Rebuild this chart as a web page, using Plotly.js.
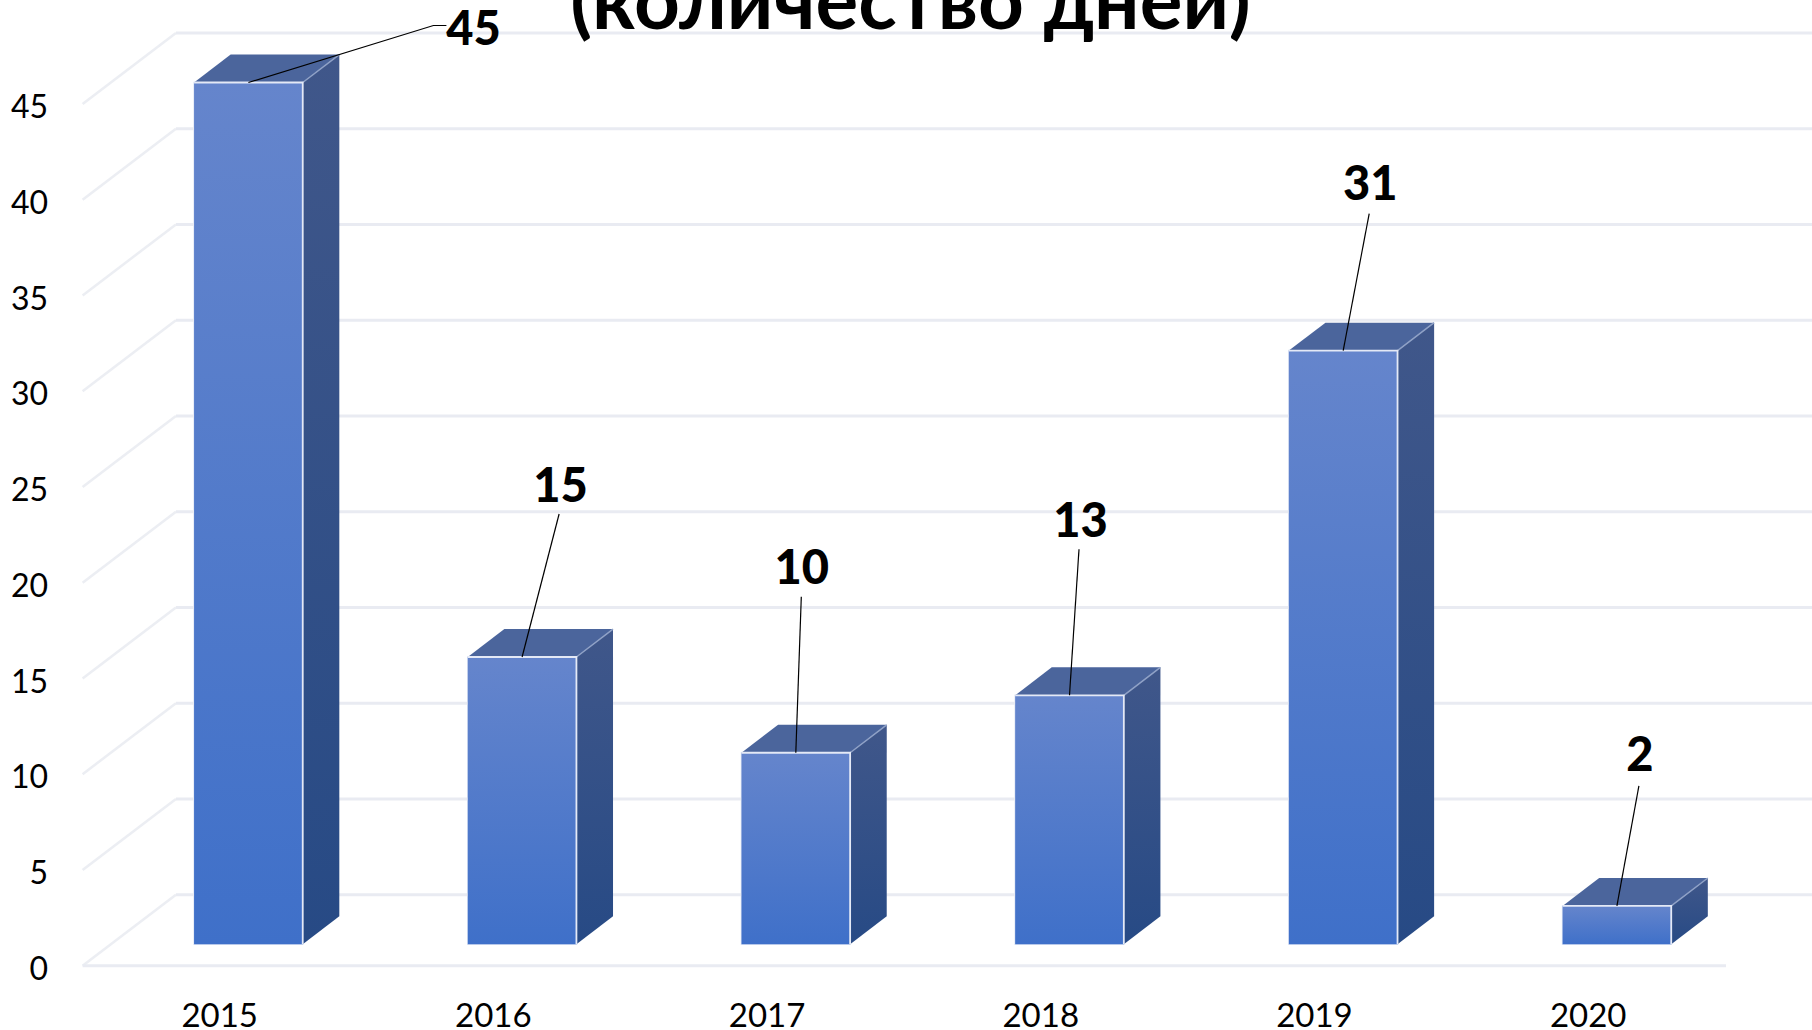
<!DOCTYPE html>
<html><head><meta charset="utf-8">
<script src="https://cdn.plot.ly/plotly-3.0.1.min.js"></script>
<style>html,body{margin:0;padding:0;background:#fff}#c{width:1812px;height:1030px}</style></head>
<body><div id="c"></div>
<script>
const years = ['2015','2016','2017','2018','2019','2020'];
const days = [45,15,10,13,31,2];
const yTicks = [0,5,10,15,20,25,30,35,40,45];
const titleText = '(количество дней)';

// 3-D construction, in axis units
const W = 1812, H = 1030, ML = 50, MB = 40;
const pxX = 273.7, pxY = 19.15, x0px = 248.4, y0px = 965.7;
const xOf = p => (p - x0px) / pxX, yOf = p => (y0px - p) / pxY;
const barW = 0.397, barDx = 0.1337, barDy = 1.46, barBase = 1.12;
const backDx = 0.341, backDy = 3.71;
const floorL = xOf(82.6), floorR = xOf(1726), wallR = xOf(W);
const labelShift = -0.105;

// label positions relative to the bar's top-centre, in pixels
const labelOff = [[225,-49],[38.5,-167],[6,-181],[11,-170],[27,-162],[23,-147]];
const lineStart = [[198,-57],[37,-143],[5.5,-156],[9.5,-146],[26,-137],[22,-120]];

const traces = [];
const FONT = 'Lato, Carlito, "Noto Sans", sans-serif';
const grid = '#e9ebf2';
const line = (x,y,color,width) => ({type:'scatter',mode:'lines',x,y,line:{color,width},hoverinfo:'skip',showlegend:false});

yTicks.forEach(v => {
  traces.push(line([floorL,floorL+backDx],[v,v+backDy],'#eceef3',2.5));
  traces.push(line([floorL+backDx,wallR],[v+backDy,v+backDy],grid,3));
});
traces.push(line([floorL,floorR],[0,0],grid,3));

const poly = (x,y,fill,extra) => Object.assign({type:'scatter',mode:'lines',x,y,fill:'toself',
  line:{color:'rgba(0,0,0,0)',width:0},hoverinfo:'skip',showlegend:false},fill,extra||{});

// side and top faces
days.forEach((v,i) => {
  const r = i + barW/2, l = i - barW/2, top = barBase + v;
  traces.push(poly([r,r+barDx,r+barDx,r,r],[barBase,barBase+barDy,top+barDy,top,barBase],
    {fillgradient:{type:'vertical',colorscale:[[0,'#274a85'],[1,'#40578a']]}}));
  traces.push(poly([l,r,r+barDx,l+barDx,l],[top,top,top+barDy,top+barDy,top],
    {fillcolor:'#4b659c'}));
  traces.push(line([r,r+barDx],[top,top+barDy],'#8fa1c6',1.5));
});

// front faces
traces.push({type:'bar',x:years.map((_,i)=>i),y:days,base:barBase,width:barW,
  marker:{color:'#5079cb',line:{color:'#dfe6f5',width:1.5}},hoverinfo:'skip',showlegend:false});
days.forEach((v,i) => {
  const r = i + barW/2, l = i - barW/2, top = barBase + v;
  traces.push(poly([l,r,r,l,l],[barBase,barBase,top,top,barBase],
    {fillgradient:{type:'vertical',colorscale:[[0,'#3f70c9'],[1,'#6585cc']]}}));
  traces.push(line([l,r,r],[top,top,barBase],'#e4e9f6',1.8));
});

// leader lines
days.forEach((v,i) => {
  const top = barBase + v, s = lineStart[i];
  const xs = [i, i + s[0]/pxX], ys = [top, top - s[1]/pxY];
  if (i === 0) { xs[1] = i + 185/pxX; xs.push(i + 198/pxX); ys.push(top + 57/pxY); }
  traces.push(line(xs,ys,'#000',1.2));
});

// value labels
traces.push({type:'scatter',mode:'text',
  x:days.map((_,i)=>i+labelOff[i][0]/pxX),
  y:days.map((v,i)=>barBase+v-labelOff[i][1]/pxY),
  text:days.map(String),textposition:'middle center',
  textfont:{family:FONT,size:47,color:'#000',weight:900},
  hoverinfo:'skip',showlegend:false,cliponaxis:false});

const layout = {
  width:W,height:H,margin:{l:ML,r:0,t:0,b:MB},
  paper_bgcolor:'#fff',plot_bgcolor:'rgba(0,0,0,0)',showlegend:false,hovermode:false,
  title:{text:titleText,x:0.5025,xanchor:'center',y:0.972,yanchor:'bottom',automargin:false,
    font:{family:FONT,size:80,color:'#000',weight:700}},
  xaxis:{range:[xOf(ML),xOf(W)],tickmode:'array',tickvals:years.map((_,i)=>i+labelShift),ticktext:years,
    showgrid:false,zeroline:false,showline:false,ticks:'',ticklabelstandoff:3,
    tickfont:{family:FONT,size:33,color:'#000'}},
  yaxis:{range:[yOf(H-MB),yOf(0)],tickmode:'array',tickvals:yTicks,ticktext:yTicks.map(String),
    showgrid:false,zeroline:false,showline:false,ticks:'',ticklabelstandoff:1,ticklabelshift:3,
    tickfont:{family:FONT,size:32,color:'#000'}}
};
Plotly.newPlot('c',traces,layout,{displayModeBar:false,staticPlot:true});
</script></body></html>
